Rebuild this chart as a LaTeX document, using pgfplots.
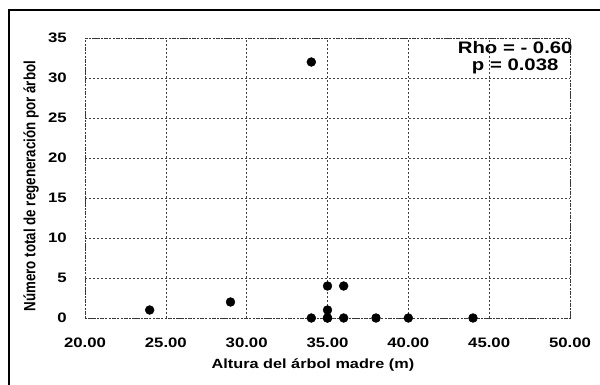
\documentclass[border=0pt]{standalone}
\usepackage{pgfplots}
\pgfplotsset{compat=1.18}
\usepackage{graphicx}
\usepackage{fontspec}
\setmainfont{Liberation Sans}
\newcommand{\hs}[1]{\scalebox{1.22}[1]{#1}}
\begin{document}
\begin{tikzpicture}[x=0.75pt,y=0.75pt]
\useasboundingbox (0,0) rectangle (600,385);
\draw[line width=1.6pt] (9,0) -- (9,375) -- (600,375);
\begin{axis}[
  at={(63.75pt,50.25pt)}, anchor=south west,
  scale only axis, width=363.75pt, height=210pt,
  xmin=20, xmax=50, ymin=0, ymax=35,
  xtick={20,25,...,50}, ytick={0,5,...,35},
  xticklabel={\hs{\pgfmathprintnumber[fixed,fixed zerofill,precision=2,assume math mode=true]{\tick}}},
  yticklabel={\hs{\pgfmathprintnumber[assume math mode=true]{\tick}}},
  tick label style={font=\fontsize{10.3}{12}\selectfont\bfseries, inner sep=0pt},
  xticklabel style={anchor=center, yshift=-18.75pt},
  yticklabel style={anchor=east, xshift=-13.5pt},
  major tick length=0pt,
  grid=major,
  grid style={black!75, line width=0.45pt, dash pattern=on 1.2pt off 1.8pt},
  axis line style={black!80, line width=0.5pt, dash pattern=on 1pt off 1.2pt},
  xlabel={\hs{Altura del árbol madre (m)}},
  ylabel={\scalebox{1}[1.22]{Número total de regeneración por árbol}},
  label style={font=\fontsize{10}{12}\selectfont\bfseries, inner sep=0pt},
  xlabel style={at={(axis description cs:0.47,-0.179)}, anchor=base},
  ylabel style={at={(axis description cs:-0.1113,0.471)}, anchor=center},
  clip=false,
]
\addplot[only marks, mark=*, mark size=3.3pt, black] coordinates {
(24,1) (29,2) (34,32) (34,0) (35,0) (35,0) (35,1) (35,4) (36,4) (36,0) (38,0) (40,0) (44,0)
};
\node[align=center, font=\fontsize{12.5}{12.8}\selectfont\bfseries, inner sep=0pt]
  at (axis description cs:0.887,0.929) {\hs{Rho = - 0.60}\\ \hs{p = 0.038}};
\end{axis}
\end{tikzpicture}
\end{document}
